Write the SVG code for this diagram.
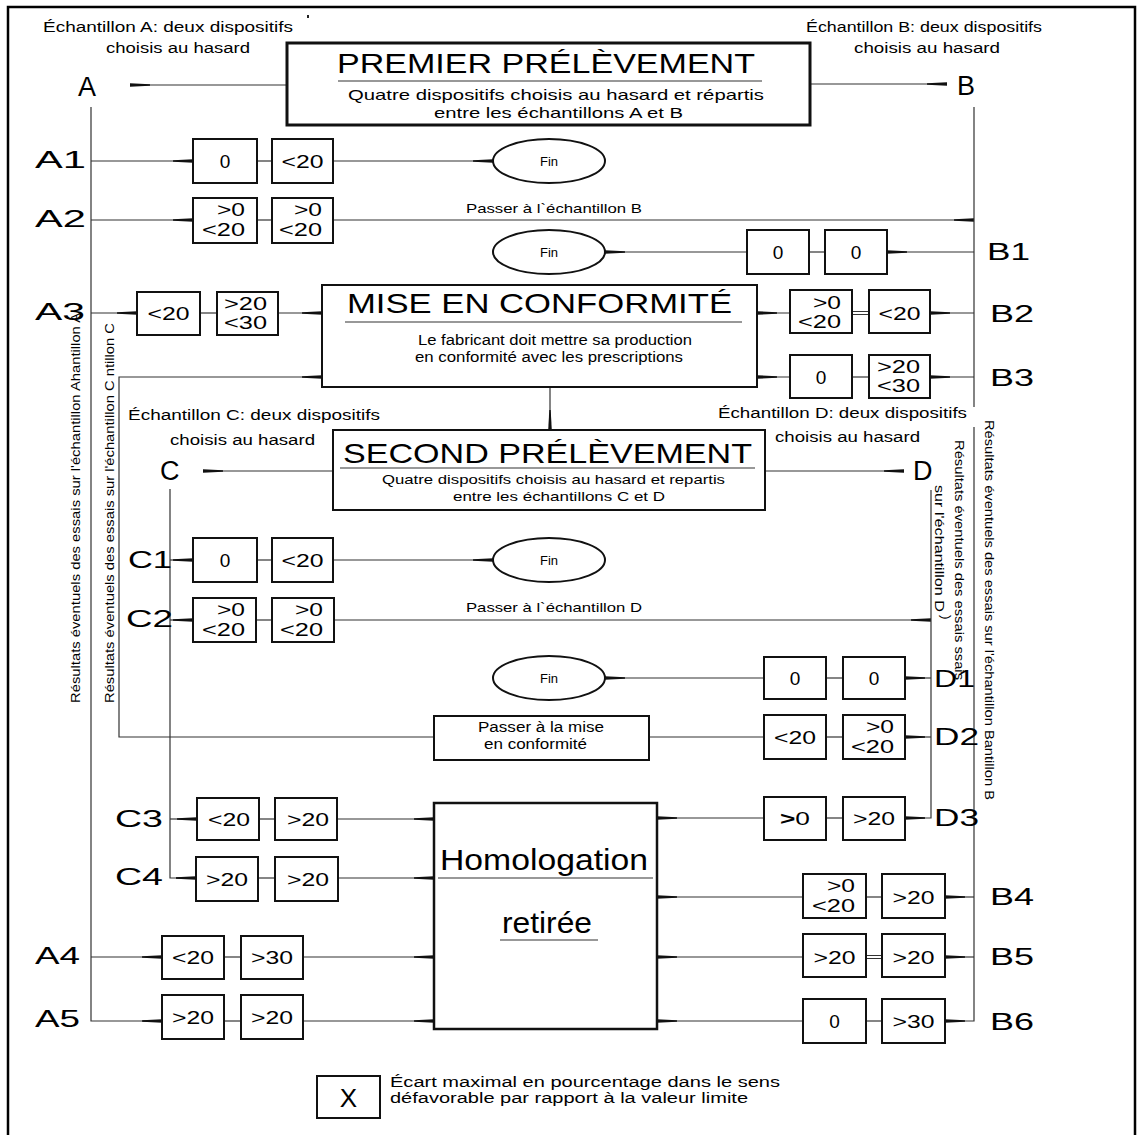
<svg xmlns="http://www.w3.org/2000/svg" width="1137" height="1135" viewBox="0 0 1137 1135">
<style>
.t{font-family:"Liberation Sans",Arial,sans-serif;fill:#000}
.s{font-size:14px}
.lab{font-size:23px}
.v{font-size:19px;text-anchor:middle}
.v2{font-size:18px;text-anchor:end}
.box{fill:#fff;stroke:#111;stroke-width:2}
.ln{fill:none;stroke:#333;stroke-width:1.2}
.ar{marker-end:url(#ah)}
.fin{fill:#fff;stroke:#111;stroke-width:2}
</style>
<defs>
<marker id="ah" viewBox="0 0 20 6" refX="20" refY="3" markerWidth="20" markerHeight="6" markerUnits="userSpaceOnUse" orient="auto"><path d="M0,2.3 L20,1.2 L20,4.8 L0,3.7Z" fill="#111"/></marker>
</defs>
<rect width="1137" height="1135" fill="#fff"/>
<path d="M8,1140 V7 H1135 V1140" fill="none" stroke="#000" stroke-width="2.5"/>
<rect x="307" y="15" width="2" height="3" fill="#222"/>

<g id="connectors">
<path class="ln ar" d="M287,85 H130"/>
<path class="ln" d="M91,107 V1021 H162"/>
<path class="ln ar" d="M91,161 H193"/>
<path class="ln" d="M257,161 H272"/>
<path class="ln ar" d="M333,161 H493"/>
<path class="ln ar" d="M91,220 H193"/>
<path class="ln" d="M257,220 H272"/>
<path class="ln ar" d="M333,220 H974"/>
<path class="ln ar" d="M91,313 H137"/>
<path class="ln" d="M200,313 H217"/>
<path class="ln ar" d="M278,313 H322"/>
<path class="ln ar" d="M91,957 H162"/>
<path class="ln" d="M224,957 H241"/>
<path class="ln ar" d="M303,957 H434"/>
<path class="ln ar" d="M143,1021 H162"/>
<path class="ln" d="M224,1021 H241"/>
<path class="ln ar" d="M303,1021 H434"/>
<path class="ln ar" d="M810,84 H947"/>
<path class="ln" d="M974,107 V407 M974,427 V1021 H950"/>
<path class="ln ar" d="M960,1021 H945"/>
<path class="ln ar" d="M974,252 H887"/>
<path class="ln" d="M809,252 H825"/>
<path class="ln ar" d="M747,252 H605"/>
<path class="ln ar" d="M974,313 H930"/>
<path class="ln" d="M852,311.5 H869 M852,314.5 H869"/>
<path class="ln ar" d="M790,313 H757"/>
<path class="ln ar" d="M974,377 H930"/>
<path class="ln" d="M852,377 H869"/>
<path class="ln ar" d="M790,377 H757"/>
<path class="ln ar" d="M974,897 H945"/>
<path class="ln" d="M866,897 H882"/>
<path class="ln ar" d="M803,897 H657"/>
<path class="ln ar" d="M974,957 H945"/>
<path class="ln" d="M866,955.5 H882 M866,958.5 H882"/>
<path class="ln ar" d="M803,957 H657"/>
<path class="ln" d="M866,1021 H882"/>
<path class="ln ar" d="M803,1021 H657"/>
<path class="ln ar" d="M550,387 V430"/>
<path class="ln ar" d="M434,737 H119 V377 H322"/>
<path class="ln ar" d="M333,471 H203"/>
<path class="ln" d="M170,489 V878 H180"/>
<path class="ln ar" d="M176,878 H196"/>
<path class="ln ar" d="M170,560 H193"/>
<path class="ln" d="M257,560 H272"/>
<path class="ln ar" d="M333,560 H493"/>
<path class="ln ar" d="M170,620 H193"/>
<path class="ln" d="M256,620 H272"/>
<path class="ln ar" d="M334,620 H931"/>
<path class="ln ar" d="M170,819 H197"/>
<path class="ln" d="M259,819 H275"/>
<path class="ln ar" d="M337,819 H434"/>
<path class="ln" d="M258,878 H275"/>
<path class="ln ar" d="M338,878 H434"/>
<path class="ln ar" d="M765,471 H904"/>
<path class="ln" d="M931,490 V818 H925"/>
<path class="ln ar" d="M925,818 H905"/>
<path class="ln ar" d="M931,678 H905"/>
<path class="ln" d="M826,678 H843"/>
<path class="ln ar" d="M764,678 H605"/>
<path class="ln ar" d="M931,737 H905"/>
<path class="ln" d="M826,737 H843"/>
<path class="ln" d="M764,737 H649"/>
<path class="ln" d="M826,818 H843"/>
<path class="ln ar" d="M764,818 H657"/>
</g>

<g id="labels-top">
<text class="t s" x="43" y="32" textLength="250" lengthAdjust="spacingAndGlyphs">Échantillon A: deux dispositifs</text>
<text class="t s" x="106" y="53" textLength="144" lengthAdjust="spacingAndGlyphs">choisis au hasard</text>
<text class="t s" x="806" y="32" textLength="236" lengthAdjust="spacingAndGlyphs">Échantillon B: deux dispositifs</text>
<text class="t s" x="854" y="53" textLength="146" lengthAdjust="spacingAndGlyphs">choisis au hasard</text>
<text class="t" x="78" y="96" font-size="27">A</text>
<text class="t" x="957" y="95" font-size="27">B</text>
<text class="t s" x="128" y="420" textLength="252" lengthAdjust="spacingAndGlyphs">Échantillon C: deux dispositifs</text>
<text class="t s" x="170" y="445" textLength="145" lengthAdjust="spacingAndGlyphs">choisis au hasard</text>
<text class="t s" x="718" y="418" textLength="249" lengthAdjust="spacingAndGlyphs">Échantillon D: deux dispositifs</text>
<text class="t s" x="775" y="442" textLength="145" lengthAdjust="spacingAndGlyphs">choisis au hasard</text>
<text class="t" x="160" y="480" font-size="27">C</text>
<text class="t" x="913" y="480" font-size="27">D</text>
</g>

<g id="row-labels">
<text class="t lab" x="35" y="168" textLength="51" lengthAdjust="spacingAndGlyphs">A1</text>
<text class="t lab" x="35" y="227" textLength="51" lengthAdjust="spacingAndGlyphs">A2</text>
<text class="t lab" x="35" y="320" textLength="50" lengthAdjust="spacingAndGlyphs">A3</text>
<text class="t lab" x="35" y="964" textLength="45" lengthAdjust="spacingAndGlyphs">A4</text>
<text class="t lab" x="35" y="1027" textLength="45" lengthAdjust="spacingAndGlyphs">A5</text>
<text class="t lab" x="987" y="260" textLength="43" lengthAdjust="spacingAndGlyphs">B1</text>
<text class="t lab" x="990" y="322" textLength="44" lengthAdjust="spacingAndGlyphs">B2</text>
<text class="t lab" x="990" y="386" textLength="44" lengthAdjust="spacingAndGlyphs">B3</text>
<text class="t lab" x="990" y="905" textLength="44" lengthAdjust="spacingAndGlyphs">B4</text>
<text class="t lab" x="990" y="965" textLength="44" lengthAdjust="spacingAndGlyphs">B5</text>
<text class="t lab" x="990" y="1030" textLength="44" lengthAdjust="spacingAndGlyphs">B6</text>
<text class="t lab" x="128" y="568" textLength="44" lengthAdjust="spacingAndGlyphs">C1</text>
<text class="t lab" x="126" y="627" textLength="47" lengthAdjust="spacingAndGlyphs">C2</text>
<text class="t lab" x="115" y="827" textLength="48" lengthAdjust="spacingAndGlyphs">C3</text>
<text class="t lab" x="115" y="885" textLength="48" lengthAdjust="spacingAndGlyphs">C4</text>
<text class="t lab" x="934" y="687" textLength="41" lengthAdjust="spacingAndGlyphs">D1</text>
<text class="t lab" x="934" y="745" textLength="45" lengthAdjust="spacingAndGlyphs">D2</text>
<text class="t lab" x="934" y="826" textLength="45" lengthAdjust="spacingAndGlyphs">D3</text>
</g>

<g id="rotated-labels">
<text class="t" font-size="13.5" transform="translate(80,703) rotate(-90)" textLength="390" lengthAdjust="spacingAndGlyphs">Résultats éventuels des essais sur l'échantillon Ahantillon A</text>
<text class="t" font-size="13.5" transform="translate(114,703) rotate(-90)" textLength="380" lengthAdjust="spacingAndGlyphs">Résultats éventuels des essais sur l'échantillon C ntillon C</text>
<text class="t" font-size="13.5" transform="translate(985,420) rotate(90)" textLength="380" lengthAdjust="spacingAndGlyphs">Résultats éventuels des essais sur l'échantillon Bantillon B</text>
<text class="t" font-size="13.5" transform="translate(955,440) rotate(90)" textLength="240" lengthAdjust="spacingAndGlyphs">Résultats éventuels des essais ssais</text>
<text class="t" font-size="13.5" transform="translate(935,485) rotate(90)" textLength="127" lengthAdjust="spacingAndGlyphs">sur l'échantillon D</text>
<text class="t" font-size="13.5" transform="translate(942,615) rotate(90)">)</text>
</g>

<g id="premier">
<rect x="287" y="43" width="523" height="82" fill="#fff" stroke="#111" stroke-width="3"/>
<text class="t" x="337" y="73" font-size="28" textLength="418" lengthAdjust="spacingAndGlyphs">PREMIER PRÉLÈVEMENT</text>
<line x1="338" y1="81" x2="762" y2="81" stroke="#333" stroke-width="1.2"/>
<text class="t" x="348" y="100" font-size="14.5" textLength="416" lengthAdjust="spacingAndGlyphs">Quatre dispositifs choisis au hasard et répartis</text>
<text class="t" x="434" y="118" font-size="14.5" textLength="249" lengthAdjust="spacingAndGlyphs">entre les échantillons A et B</text>
</g>

<g id="mise">
<rect x="322" y="285" width="435" height="102" class="box"/>
<text class="t" x="347" y="313" font-size="28" textLength="385" lengthAdjust="spacingAndGlyphs">MISE EN CONFORMITÉ</text>
<line x1="345" y1="322" x2="742" y2="322" stroke="#333" stroke-width="1.2"/>
<text class="t" x="418" y="345" font-size="14" textLength="274" lengthAdjust="spacingAndGlyphs">Le fabricant doit mettre sa production</text>
<text class="t" x="415" y="362" font-size="14" textLength="268" lengthAdjust="spacingAndGlyphs">en conformité avec les prescriptions</text>
</g>

<g id="second">
<rect x="333" y="430" width="432" height="80" class="box"/>
<text class="t" x="343" y="463" font-size="28" textLength="409" lengthAdjust="spacingAndGlyphs">SECOND PRÉLÈVEMENT</text>
<line x1="340" y1="468" x2="755" y2="468" stroke="#333" stroke-width="1.2"/>
<text class="t" x="382" y="484" font-size="13" textLength="343" lengthAdjust="spacingAndGlyphs">Quatre dispositifs choisis au hasard et repartis</text>
<text class="t" x="453" y="501" font-size="13" textLength="212" lengthAdjust="spacingAndGlyphs">entre les échantillons C et D</text>
</g>

<g id="homologation">
<rect x="434" y="803" width="223" height="226" fill="#fff" stroke="#111" stroke-width="2.5"/>
<text class="t" x="440" y="870" font-size="29" textLength="208" lengthAdjust="spacingAndGlyphs">Homologation</text>
<line x1="438" y1="878" x2="653" y2="878" stroke="#333" stroke-width="1.2"/>
<text class="t" x="502" y="933" font-size="29" textLength="90" lengthAdjust="spacingAndGlyphs">retirée</text>
<line x1="500" y1="940" x2="598" y2="940" stroke="#333" stroke-width="1.2"/>
</g>

<g id="passer-mise">
<rect x="434" y="716" width="215" height="44" class="box"/>
<text class="t" x="478" y="732" font-size="14" textLength="126" lengthAdjust="spacingAndGlyphs">Passer à la mise</text>
<text class="t" x="484" y="749" font-size="14" textLength="103" lengthAdjust="spacingAndGlyphs">en conformité</text>
</g>

<g id="passer-labels">
<text class="t" x="466" y="213" font-size="13.5" textLength="176" lengthAdjust="spacingAndGlyphs">Passer à l`échantillon B</text>
<text class="t" x="466" y="612" font-size="13.5" textLength="176" lengthAdjust="spacingAndGlyphs">Passer à l`échantillon D</text>
</g>

<g id="fin-nodes">
<g id="fin1"><ellipse class="fin" cx="549" cy="161" rx="56" ry="22"/><text class="t" x="549" y="166" font-size="13" text-anchor="middle">Fin</text></g>
<g id="fin2"><ellipse class="fin" cx="549" cy="252" rx="56" ry="22"/><text class="t" x="549" y="257" font-size="13" text-anchor="middle">Fin</text></g>
<g id="fin3"><ellipse class="fin" cx="549" cy="560" rx="56" ry="22"/><text class="t" x="549" y="565" font-size="13" text-anchor="middle">Fin</text></g>
<g id="fin4"><ellipse class="fin" cx="549" cy="678" rx="56" ry="22"/><text class="t" x="549" y="683" font-size="13" text-anchor="middle">Fin</text></g>
</g>

<g id="A1-boxes">
<rect class="box" x="193" y="139" width="64" height="44"/><text class="t v" x="225" y="168">0</text>
<rect class="box" x="272" y="139" width="61" height="44"/><text class="t v" x="302.5" y="168" textLength="42" lengthAdjust="spacingAndGlyphs">&lt;20</text>
</g>
<g id="A2-boxes">
<rect class="box" x="193" y="198" width="64" height="45"/><text class="t v2" x="245" y="216" textLength="28" lengthAdjust="spacingAndGlyphs">&gt;0</text><text class="t v2" x="245" y="236" textLength="43" lengthAdjust="spacingAndGlyphs">&lt;20</text>
<rect class="box" x="272" y="198" width="61" height="45"/><text class="t v2" x="322" y="216" textLength="28" lengthAdjust="spacingAndGlyphs">&gt;0</text><text class="t v2" x="322" y="236" textLength="43" lengthAdjust="spacingAndGlyphs">&lt;20</text>
</g>
<g id="A3-boxes">
<rect class="box" x="137" y="292" width="63" height="43"/><text class="t v" x="168.5" y="320" textLength="42" lengthAdjust="spacingAndGlyphs">&lt;20</text>
<rect class="box" x="217" y="292" width="61" height="43"/><text class="t v2" x="267" y="310" textLength="43" lengthAdjust="spacingAndGlyphs">&gt;20</text><text class="t v2" x="267" y="329" textLength="43" lengthAdjust="spacingAndGlyphs">&lt;30</text>
</g>
<g id="B1-boxes">
<rect class="box" x="747" y="230" width="62" height="44"/><text class="t v" x="778" y="259">0</text>
<rect class="box" x="825" y="230" width="62" height="44"/><text class="t v" x="856" y="259">0</text>
</g>
<g id="B2-boxes">
<rect class="box" x="790" y="290" width="62" height="43"/><text class="t v2" x="841" y="309" textLength="28" lengthAdjust="spacingAndGlyphs">&gt;0</text><text class="t v2" x="841" y="328" textLength="43" lengthAdjust="spacingAndGlyphs">&lt;20</text>
<rect class="box" x="869" y="290" width="61" height="43"/><text class="t v" x="899.5" y="320" textLength="42" lengthAdjust="spacingAndGlyphs">&lt;20</text>
</g>
<g id="B3-boxes">
<rect class="box" x="790" y="355" width="62" height="43"/><text class="t v" x="821" y="384">0</text>
<rect class="box" x="869" y="355" width="61" height="43"/><text class="t v2" x="920" y="373" textLength="43" lengthAdjust="spacingAndGlyphs">&gt;20</text><text class="t v2" x="920" y="392" textLength="43" lengthAdjust="spacingAndGlyphs">&lt;30</text>
</g>
<g id="C1-boxes">
<rect class="box" x="193" y="538" width="64" height="44"/><text class="t v" x="225" y="567">0</text>
<rect class="box" x="272" y="538" width="61" height="44"/><text class="t v" x="302.5" y="567" textLength="42" lengthAdjust="spacingAndGlyphs">&lt;20</text>
</g>
<g id="C2-boxes">
<rect class="box" x="193" y="598" width="63" height="44"/><text class="t v2" x="245" y="616" textLength="28" lengthAdjust="spacingAndGlyphs">&gt;0</text><text class="t v2" x="245" y="636" textLength="43" lengthAdjust="spacingAndGlyphs">&lt;20</text>
<rect class="box" x="272" y="598" width="62" height="44"/><text class="t v2" x="323" y="616" textLength="28" lengthAdjust="spacingAndGlyphs">&gt;0</text><text class="t v2" x="323" y="636" textLength="43" lengthAdjust="spacingAndGlyphs">&lt;20</text>
</g>
<g id="D1-boxes">
<rect class="box" x="764" y="657" width="62" height="42"/><text class="t v" x="795" y="685">0</text>
<rect class="box" x="843" y="657" width="62" height="42"/><text class="t v" x="874" y="685">0</text>
</g>
<g id="D2-boxes">
<rect class="box" x="764" y="715" width="62" height="44"/><text class="t v" x="795" y="744" textLength="42" lengthAdjust="spacingAndGlyphs">&lt;20</text>
<rect class="box" x="843" y="715" width="62" height="44"/><text class="t v2" x="894" y="733" textLength="28" lengthAdjust="spacingAndGlyphs">&gt;0</text><text class="t v2" x="894" y="753" textLength="43" lengthAdjust="spacingAndGlyphs">&lt;20</text>
</g>
<g id="D3-boxes">
<rect class="box" x="764" y="797" width="62" height="43"/><text class="t v" x="795" y="825" textLength="30" lengthAdjust="spacingAndGlyphs"><tspan font-weight="bold">&gt;</tspan>0</text>
<rect class="box" x="843" y="797" width="62" height="43"/><text class="t v" x="874" y="825" textLength="42" lengthAdjust="spacingAndGlyphs">&gt;20</text>
</g>
<g id="C3-boxes">
<rect class="box" x="197" y="798" width="62" height="42"/><text class="t v" x="229" y="826" textLength="42" lengthAdjust="spacingAndGlyphs">&lt;20</text>
<rect class="box" x="275" y="798" width="62" height="42"/><text class="t v" x="308" y="826" textLength="42" lengthAdjust="spacingAndGlyphs">&gt;20</text>
</g>
<g id="C4-boxes">
<rect class="box" x="196" y="857" width="62" height="44"/><text class="t v" x="227" y="886" textLength="42" lengthAdjust="spacingAndGlyphs">&gt;20</text>
<rect class="box" x="275" y="857" width="63" height="44"/><text class="t v" x="308" y="886" textLength="42" lengthAdjust="spacingAndGlyphs">&gt;20</text>
</g>
<g id="A4-boxes">
<rect class="box" x="162" y="936" width="62" height="43"/><text class="t v" x="193" y="964" textLength="42" lengthAdjust="spacingAndGlyphs">&lt;20</text>
<rect class="box" x="241" y="936" width="62" height="43"/><text class="t v" x="272" y="964" textLength="42" lengthAdjust="spacingAndGlyphs">&gt;30</text>
</g>
<g id="A5-boxes">
<rect class="box" x="162" y="995" width="62" height="44"/><text class="t v" x="193" y="1024" textLength="42" lengthAdjust="spacingAndGlyphs">&gt;20</text>
<rect class="box" x="241" y="995" width="62" height="44"/><text class="t v" x="272" y="1024" textLength="42" lengthAdjust="spacingAndGlyphs">&gt;20</text>
</g>
<g id="B4-boxes">
<rect class="box" x="803" y="874" width="63" height="44"/><text class="t v2" x="855" y="892" textLength="28" lengthAdjust="spacingAndGlyphs">&gt;0</text><text class="t v2" x="855" y="912" textLength="43" lengthAdjust="spacingAndGlyphs">&lt;20</text>
<rect class="box" x="882" y="874" width="63" height="44"/><text class="t v" x="913.5" y="904" textLength="42" lengthAdjust="spacingAndGlyphs">&gt;20</text>
</g>
<g id="B5-boxes">
<rect class="box" x="803" y="934" width="63" height="43"/><text class="t v" x="834.5" y="964" textLength="42" lengthAdjust="spacingAndGlyphs">&gt;20</text>
<rect class="box" x="882" y="934" width="63" height="43"/><text class="t v" x="913.5" y="964" textLength="42" lengthAdjust="spacingAndGlyphs">&gt;20</text>
</g>
<g id="B6-boxes">
<rect class="box" x="803" y="999" width="63" height="44"/><text class="t v" x="834.5" y="1028">0</text>
<rect class="box" x="882" y="999" width="63" height="44"/><text class="t v" x="913.5" y="1028" textLength="42" lengthAdjust="spacingAndGlyphs">&gt;30</text>
</g>

<g id="legend">
<rect class="box" x="317" y="1076" width="63" height="42"/>
<text class="t" x="348.5" y="1107" font-size="26" text-anchor="middle">X</text>
<text class="t" x="390" y="1087" font-size="14" textLength="390" lengthAdjust="spacingAndGlyphs">Écart maximal en pourcentage dans le sens</text>
<text class="t" x="390" y="1103" font-size="14" textLength="358" lengthAdjust="spacingAndGlyphs">défavorable par rapport à la valeur limite</text>
</g>
</svg>
